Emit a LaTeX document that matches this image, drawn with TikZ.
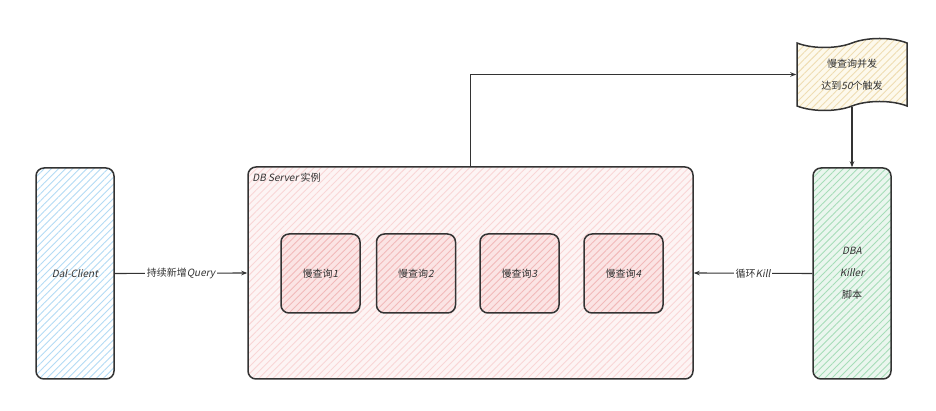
\documentclass[tikz,border=0pt]{standalone}
\usepackage{fontspec}
\setmainfont{Noto Sans CJK SC}[ItalicFont=Noto Sans CJK SC, ItalicFeatures={FakeSlant=0.2}]
\usetikzlibrary{arrows.meta,patterns.meta,shapes.symbols}

\definecolor{ink}{HTML}{333333}
\definecolor{hatchblue}{HTML}{B3DBF5}
\definecolor{hatchpink}{HTML}{F9D6D6}
\definecolor{fillpink}{HTML}{FDF4F4}
\definecolor{hatchrose}{HTML}{F2B9B9}
\definecolor{fillrose}{HTML}{FBE4E4}
\definecolor{hatchgreen}{HTML}{A6DDB8}
\definecolor{fillgreen}{HTML}{EAF6EE}
\definecolor{hatchyellow}{HTML}{EFDDB2}
\definecolor{fillyellow}{HTML}{FDF9EC}

\begin{document}
\begin{tikzpicture}
  [x=1pt, y=1pt, text=ink, font=\fontsize{10}{22}\selectfont,
   sketch/.style={draw=ink, line width=1.5pt, rounded corners=8pt, preaction={fill=#1}},
   hatch/.style={preaction={pattern={Lines[angle=45, distance=5pt, line width=0.9pt]}, pattern color=#1}},
   flow/.style={draw=ink, line width=1.1pt, -{Stealth[length=6pt, width=4.5pt]}}]
\useasboundingbox (0,0) rectangle (936,411);

\node[sketch=white, hatch=hatchblue, minimum width=78, minimum height=211] (client) at (75,137.5)
  {\textit{Dal-Client}};
\node[sketch=fillpink, hatch=hatchpink, minimum width=445, minimum height=212] (server) at (470.5,138) {};
\node[anchor=north west, inner sep=1pt] (title) at ([xshift=4pt, yshift=-6pt]server.north west)
  {\textit{DB Server} 实例};

\node[sketch=fillrose, hatch=hatchrose, minimum size=79] (q1) at (320.5,137.5) {慢查询\textit{1}};
\node[sketch=fillrose, hatch=hatchrose, minimum size=79] (q2) at (416,137.5) {慢查询\textit{2}};
\node[sketch=fillrose, hatch=hatchrose, minimum size=79] (q3) at (519.5,137.5) {慢查询\textit{3}};
\node[sketch=fillrose, hatch=hatchrose, minimum size=79] (q4) at (623.5,137.5) {慢查询\textit{4}};

\node[sketch=fillgreen, hatch=hatchgreen, minimum width=78, minimum height=211, align=center] (killer) at (852,137.5)
  {\textit{DBA}\\\textit{Killer}\\脚本};

\node[tape, draw=ink, line width=1.5pt, preaction={fill=fillyellow}, hatch=hatchyellow, tape bend height=9pt,
  minimum width=110, minimum height=72, align=center] (trigger) at (852,336.5)
  {慢查询并发\\达到\textit{50}个触发};

\draw[flow] (client.east) -- node[fill=white, inner sep=1.5pt] {持续新增\textit{Query}} (server.west);
\draw[flow] (server.north) |- (trigger.west);
\draw[flow] (trigger.south) -- (killer.north);
\draw[flow] (killer.west) -- node[fill=white, inner sep=1.5pt] {循环\textit{Kill}} (server.east);
\end{tikzpicture}
\end{document}
